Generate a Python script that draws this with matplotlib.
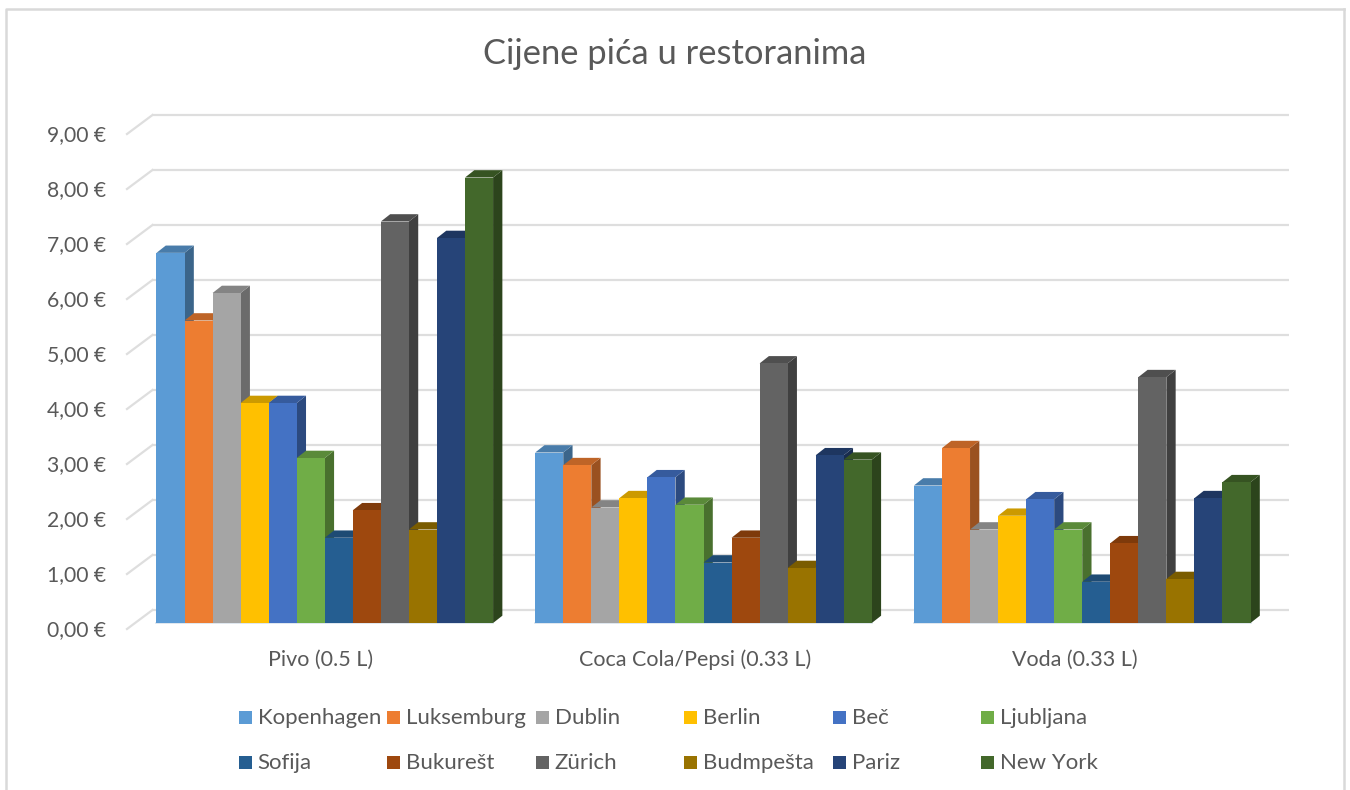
import matplotlib
matplotlib.use("Agg")
import matplotlib.pyplot as plt
import matplotlib.transforms as mtrans
from matplotlib.lines import Line2D
from matplotlib.patches import Rectangle

categories = ["Pivo (0.5 L)", "Coca Cola/Pepsi (0.33 L)", "Voda (0.33 L)"]
cities = ["Kopenhagen", "Luksemburg", "Dublin", "Berlin", "Beč", "Ljubljana",
          "Sofija", "Bukurešt", "Zürich", "Budmpešta", "Pariz", "New York"]
pivo = [6.73, 5.50, 6.00, 4.00, 4.00, 3.00, 1.55, 2.05, 7.30, 1.70, 7.00, 8.10]
coca = [3.10, 2.87, 2.10, 2.27, 2.65, 2.15, 1.10, 1.55, 4.72, 1.00, 3.05, 2.97]
voda = [2.50, 3.18, 1.70, 1.95, 2.25, 1.70, 0.75, 1.45, 4.47, 0.80, 2.27, 2.56]
series = [pivo, coca, voda]
colors = ["#5B9BD5", "#ED7D31", "#A5A5A5", "#FFC000", "#4472C4", "#70AD47",
          "#255E91", "#9E480E", "#636363", "#997300", "#264478", "#43682B"]
y_ticks = list(range(10))

W, H = 1350, 790
FONT = "Lato"
TXT = "#595959"
GRID = "#DEDEDE"


def shade(c, f):
    r, g, b = matplotlib.colors.to_rgb(c)
    return (r * f, g * f, b * f)


fig = plt.figure(figsize=(W / 100, H / 100), dpi=100)
fig.patch.set_facecolor("white")
# front plane of the 3D box, in pixels
L, R, B, T = 135, 1272, 623, 128
ax = fig.add_axes([L / W, (H - B) / H, (R - L) / W, (B - T) / H])
ax.set_facecolor("none")
for s in ax.spines.values():
    s.set_visible(False)

BAR_PX = 28.07
PITCH = 379 / BAR_PX
MARGIN = 21.5 / BAR_PX
ax.set_xlim(-MARGIN, 2 * PITCH + 12 + MARGIN)
ax.set_ylim(0, 9)
PX = BAR_PX
PY = 55.0
bar_dx, bar_dy = 9.3 / PX, 7.3 / PY
wall_dx, wall_dy = 17.5 / PX, 13.0 / PY
x0, x1 = ax.get_xlim()

# back wall gridlines and diagonal side ticks
for v in y_ticks:
    ax.plot([x0 + wall_dx, x1 + wall_dx], [v + wall_dy, v + wall_dy],
            color=GRID, lw=1.6, clip_on=False, zorder=1, solid_capstyle="butt")
    ax.plot([x0 - 8 / PX, x0 + wall_dx], [v - 6 / PY, v + wall_dy],
            color=GRID, lw=1.6, clip_on=False, zorder=1)

# bars
z = 2
for g, vals in enumerate(series):
    start = g * PITCH
    ax.plot([start, start + 12], [0, 0], color="#D9E3EC", lw=1.2, clip_on=False, zorder=1.5)
    for j, (v, c) in enumerate(zip(vals, colors)):
        xl, xr = start + j, start + j + 1
        ax.fill([xr, xr + bar_dx, xr + bar_dx, xr],
                [0, bar_dy, v + bar_dy, v],
                color=shade(c, 0.65), lw=0, zorder=z, clip_on=False)
        ax.fill([xl, xr, xr + bar_dx, xl + bar_dx],
                [v, v, v + bar_dy, v + bar_dy],
                color=shade(c, 0.8), lw=0, zorder=z + 0.1, clip_on=False)
        ax.bar(xl + 0.5, v, width=1.0, color=c, lw=0, zorder=z + 0.2, clip_on=False)
        z += 1

# axes labels
ax.set_yticks(y_ticks)
ax.set_yticklabels([f"{v:.2f}".replace(".", ",") + " €" for v in y_ticks],
                   fontfamily=FONT, fontsize=15.2, color=TXT)
ax.tick_params(axis="y", length=0, pad=21)
shift = mtrans.ScaledTranslation(0, -5.5 / 100, fig.dpi_scale_trans)
for lab in ax.get_yticklabels():
    lab.set_transform(lab.get_transform() + shift)

ax.set_xticks([g * PITCH + 6 for g in range(3)])
ax.set_xticklabels(categories, fontfamily=FONT, fontsize=15.5, color=TXT)
ax.tick_params(axis="x", length=0, pad=19)
for lab, off in zip(ax.get_xticklabels(), [-4, -8, -7]):
    lab.set_transform(lab.get_transform() + mtrans.ScaledTranslation(off / 100, 0, fig.dpi_scale_trans))

# title
fig.text(674.5 / W, 1 - 54.5 / H, "Cijene pića u restoranima", ha="center", va="center",
         fontfamily=FONT, fontsize=24.8, color=TXT)

# legend laid out on the reference's equal columns
col_px = [238.5, 387, 535.7, 684, 832.5, 981.3]
row_px = [717, 762]
for i, (name, c) in enumerate(zip(cities, colors)):
    cx, cy = col_px[i % 6], row_px[i // 6]
    fig.add_artist(Rectangle((cx / W, 1 - (cy + 6.5) / H), 13 / W, 13 / H, color=c, lw=0,
                             transform=fig.transFigure))
    fig.text((cx + 19) / W, 1 - (cy + 1) / H, name, ha="left", va="center",
             fontfamily=FONT, fontsize=16, color=TXT)

# chart frame, open at the bottom edge
for xs, ys in [([6, 6, 1343.5], [H, 9, 9]), ([1343.5, 1343.5], [9, H])]:
    fig.add_artist(Line2D([x / W for x in xs], [1 - y / H for y in ys], color="#D9D9D9",
                          lw=1.8, transform=fig.transFigure))

fig.savefig("out.png", dpi=100)
